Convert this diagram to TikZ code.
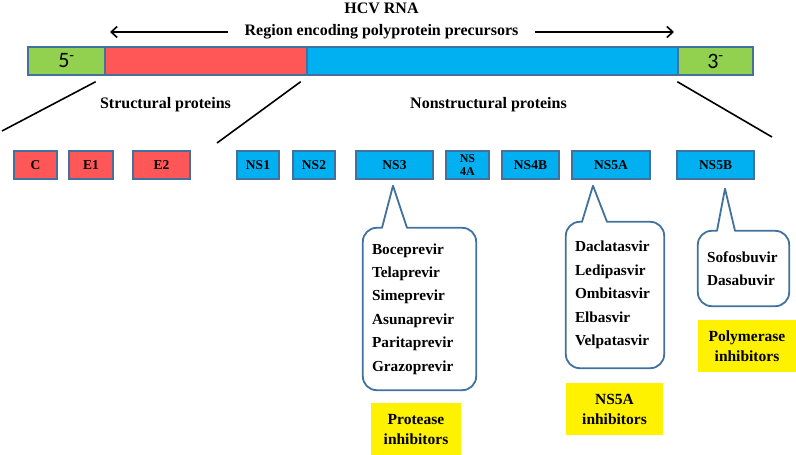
\documentclass[tikz,border=0pt]{standalone}
\usepackage{fontspec}
\setmainfont{Liberation Serif}
\newfontfamily\calfont{Carlito}
\usepackage{tikz}
\usetikzlibrary {arrows.meta,
                 calc,
                 positioning}
\definecolor{genegreen}{HTML}{92D050}
\definecolor{genered}{HTML}{FF5757}
\definecolor{geneblue}{HTML}{00B0F0}
\definecolor{edgeblue}{HTML}{41719C}
\tikzset{
        seg/.style={draw=edgeblue, line width=1.4pt, minimum height=28pt,
                    inner sep=0pt},
        prot/.style={seg, font=\bfseries\fontsize{13.5}{15}\selectfont},
        bubble/.style={draw=edgeblue, line width=1.8pt, line join=round},
        drugs/.style={inner xsep=9pt, inner ysep=0pt, align=left,
                      font=\bfseries\fontsize{15.3}{23.4}\selectfont},
        tag/.style={fill=yellow, inner sep=0pt, minimum height=52pt,
                    align=center, font=\bfseries\fontsize{15.5}{20}\selectfont},
        head/.style={anchor=base, font=\bfseries\fontsize{16}{18}\selectfont},
        myarrow/.style={-{Straight Barb[length=6pt, width=11pt]}, line width=1.6pt},
        zoomline/.style={line width=1.6pt},
 }
\begin{document}
\begin{tikzpicture}[x=1pt, y=-1pt]
    \useasboundingbox (0,0) rectangle (796,455);

    \node[head] (hcv) at (381.5,13) {HCV RNA};
    \node[head] (region) at (381.5,35) {Region encoding polyprotein precursors};
    \coordinate (ltail) at (228,32);
    \coordinate (lhead) at (110,32);
    \coordinate (rtail) at (535,32);
    \coordinate (rhead) at (674,32);
    \draw[myarrow] (ltail) -- (lhead);
    \draw[myarrow] (rtail) -- (rhead);

    % genome
    \node[seg, fill=genered, minimum width=202pt] (struct) at (206,61) {};
    \node[seg, fill=geneblue, minimum width=371pt] (nonstruct) at (492.5,61) {};
    \node[seg, fill=genegreen, minimum width=77pt, font=\calfont\fontsize{22}{22}\selectfont] (five) at (66.5,61) {5\textsuperscript{-}};
    \node[seg, fill=genegreen, minimum width=75pt, font=\calfont\fontsize{22}{22}\selectfont] (three) at (715.5,61) {3\textsuperscript{-}};

    \node[head] (sp) at (165.5,108) {Structural proteins};
    \node[head] (nsp) at (488.5,108) {Nonstructural proteins};

    \coordinate (zl) at (2,131);
    \coordinate (zm) at (217,143);
    \coordinate (zr) at (772,137);
    \draw[zoomline] ($(five.south east)+(-10,6)$) -- (zl);
    \draw[zoomline] ($(struct.south east)+(-7,6)$) -- (zm);
    \draw[zoomline] ($(three.south west)+(0,6)$) -- (zr);

    % proteins
    \node[prot, fill=genered, minimum width=43pt] (c) at (35.5,165) {C};
    \node[prot, fill=genered, minimum width=44pt] (e1) at (91,165) {E1};
    \node[prot, fill=genered, minimum width=57pt] (e2) at (161.5,165) {E2};
    \node[prot, fill=geneblue, minimum width=42pt] (ns1) at (258,165) {NS1};
    \node[prot, fill=geneblue, minimum width=42pt] (ns2) at (314,165) {NS2};
    \node[prot, fill=geneblue, minimum width=77pt] (ns3) at (394.5,165) {NS3};
    \node[prot, fill=geneblue, minimum width=43pt, align=center,
          font=\bfseries\fontsize{12}{13}\selectfont] (ns4a) at (467.5,165) {NS\\4A};
    \node[prot, fill=geneblue, minimum width=57pt] (ns4b) at (530.5,165) {NS4B};
    \node[prot, fill=geneblue, minimum width=78pt] (ns5a) at (611,165) {NS5A};
    \node[prot, fill=geneblue, minimum width=77pt] (ns5b) at (715.5,165) {NS5B};

    % drug bubbles
    \node[drugs, text width=95pt, minimum height=162pt] (ns3drugs) at (419.5,309)
        {Boceprevir\\Telaprevir\\Simeprevir\\Asunaprevir\\Paritaprevir\\Grazoprevir};
    \draw[bubble] ($(ns3drugs.north)+(-37.5,0)$) -- ($(ns3.south)+(-1.5,6)$)
        -- ($(ns3drugs.north)+(-12.5,0)$) [rounded corners=14pt]
        -- (ns3drugs.north east) -- (ns3drugs.south east)
        -- (ns3drugs.south west) -- (ns3drugs.north west) [sharp corners] -- cycle;

    \node[drugs, text width=80pt, minimum height=146pt] (ns5adrugs) at (615,295)
        {Daclatasvir\\Ledipasvir\\Ombitasvir\\Elbasvir\\Velpatasvir};
    \draw[bubble] ($(ns5adrugs.north)+(-33,0)$) -- ($(ns5a.south)+(-18,6)$)
        -- ($(ns5adrugs.north)+(-8,0)$) [rounded corners=14pt]
        -- (ns5adrugs.north east) -- (ns5adrugs.south east)
        -- (ns5adrugs.south west) -- (ns5adrugs.north west) [sharp corners] -- cycle;

    \node[drugs, text width=73pt, minimum height=75pt] (ns5bdrugs) at (743.5,268.5)
        {Sofosbuvir\\Dasabuvir};
    \draw[bubble] ($(ns5bdrugs.north)+(-26.5,0)$) -- ($(ns5b.south)+(9.5,9)$)
        -- ($(ns5bdrugs.north)+(-8.5,0)$) [rounded corners=14pt]
        -- (ns5bdrugs.north east) -- (ns5bdrugs.south east)
        -- (ns5bdrugs.south west) -- (ns5bdrugs.north west) [sharp corners] -- cycle;

    % inhibitor classes
    \node[tag, minimum width=90pt] (protease) at (416,429) {Protease\\inhibitors};
    \node[tag, minimum width=97pt] (ns5ainh) at (614.5,409) {NS5A\\inhibitors};
    \node[tag, minimum width=98pt] (polymerase) at (747,346) {Polymerase\\inhibitors};
\end{tikzpicture}
\end{document}
